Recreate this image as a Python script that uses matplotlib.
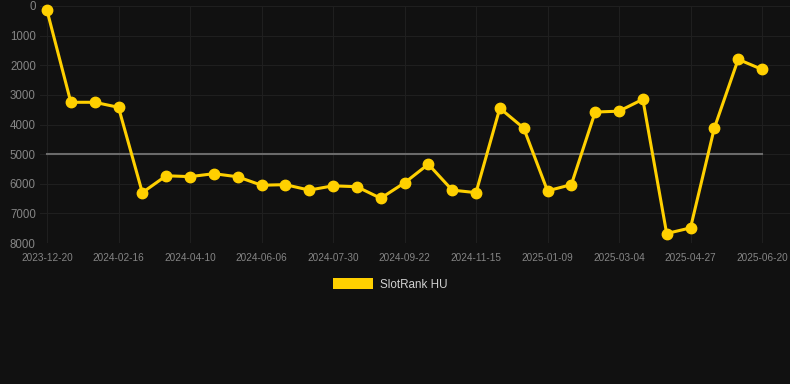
import matplotlib
matplotlib.use("Agg")
import matplotlib.pyplot as plt
from matplotlib.patches import Patch

dates = ["2023-12-20", "2024-01-08", "2024-01-27", "2024-02-16", "2024-03-04",
         "2024-03-22", "2024-04-10", "2024-04-29", "2024-05-18", "2024-06-06",
         "2024-06-24", "2024-07-12", "2024-07-30", "2024-08-17", "2024-09-04",
         "2024-09-22", "2024-10-10", "2024-10-28", "2024-11-15", "2024-12-03",
         "2024-12-21", "2025-01-09", "2025-01-27", "2025-02-14", "2025-03-04",
         "2025-03-22", "2025-04-09", "2025-04-27", "2025-05-15", "2025-06-02",
         "2025-06-20"]
rank = [150, 3250, 3250, 3420, 6300, 5730, 5760, 5660, 5765, 6050,
        6030, 6215, 6070, 6100, 6490, 5970, 5340, 6215, 6300, 3450,
        4120, 6240, 6030, 3580, 3550, 3150, 7680, 7490, 4120, 1800,
        2140]
ref_level = 5000
yticks = [0, 1000, 2000, 3000, 4000, 5000, 6000, 7000, 8000]
series_name = "SlotRank HU"

W, H = 790, 384
fig = plt.figure(figsize=(W / 100, H / 100), dpi=100, facecolor="#111111")
ax = fig.add_axes([40 / W, 1 - 243 / H, 750 / W, 237 / H], facecolor="#111111")

x = list(range(len(dates)))
ax.plot([x[0], x[-1]], [ref_level, ref_level], color="#6a6a6a", lw=1.5, zorder=2)
ax.plot(x, rank, color="#FFD000", lw=2.2, marker="o", markersize=7.5,
        markerfacecolor="#FFD000", markeredgecolor="#FFD000", zorder=3, clip_on=False)

px = 715 / 30
ax.set_xlim(-7 / px, 30 + 28 / px)
ax.set_ylim(8000, 0)
ax.set_yticks(yticks)
ax.set_yticklabels([str(v) for v in yticks])
ax.set_xticks(x[::3])
ax.set_xticklabels(dates[::3])

for s in ax.spines.values():
    s.set_visible(False)
ax.tick_params(axis="both", length=0)
ax.tick_params(axis="y", pad=3, labelsize=8.3, labelcolor="#858585")
ax.tick_params(axis="x", pad=7.5, labelsize=7.2, labelcolor="#858585")
for lab in ax.get_xticklabels() + ax.get_yticklabels():
    lab.set_family("Liberation Sans")
ax.grid(True, color="#1f1f1f", lw=0.8, zorder=0)

handle = Patch(facecolor="#FFD000", edgecolor="none")
leg = fig.legend([handle], [series_name], loc="center",
                 bbox_to_anchor=(390 / W, 1 - 284.5 / H), frameon=False,
                 handlelength=3.4, handleheight=1.0, handletextpad=0.6,
                 prop={"family": "Liberation Sans", "size": 8.4})
for t in leg.get_texts():
    t.set_color("#d0d0d0")

fig.savefig("out.png", dpi=100, facecolor=fig.get_facecolor())
